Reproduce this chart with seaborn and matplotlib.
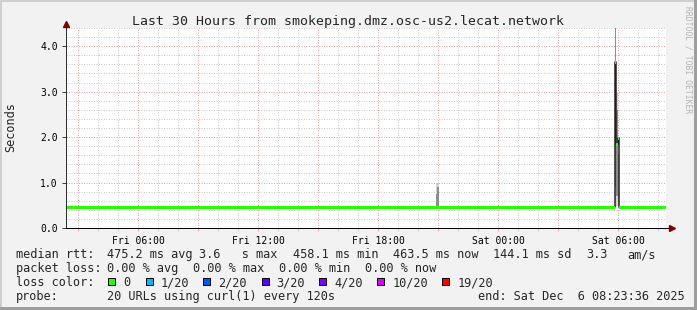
import numpy as np
import pandas as pd
import matplotlib
matplotlib.use("Agg")
import matplotlib.pyplot as plt
import matplotlib.dates as mdates
from matplotlib.patches import Rectangle
from matplotlib.ticker import MultipleLocator, FuncFormatter
import seaborn as sns

# ---------------- data ----------------
start_time = "2025-12-05 02:23:36"
end_time = "2025-12-06 08:23:36"
title = "Last 30 Hours from smokeping.dmz.osc-us2.lecat.network"
y_label = "Seconds"

# median rtt (step series): hours after start, seconds
median_hours = [0.00, 27.45, 27.52, 27.59, 27.66, 29.98]
median_sec = [0.454, 3.65, 1.84, 1.97, 0.454, 0.454]

# smoke (ping spread) columns: hours after start, seconds
smoke_hours = [18.50, 18.57, 27.45, 27.52, 27.59]
smoke_min = [0.49, 0.49, 0.49, 0.49, 0.49]
smoke_q1 = [0.49, 0.49, 0.90, 0.70, 0.60]
smoke_q3 = [0.75, 0.90, 4.40, 2.60, 1.60]
smoke_max = [0.98, 0.98, 4.40, 3.00, 2.00]

legend_rtt = ["475.2 ms avg", "3.6   s max", "458.1 ms min", "463.5 ms now", "144.1 ms sd", "3.3", "am/s"]
legend_loss = ["0.00 % avg", "0.00 % max", "0.00 % min", "0.00 % now"]
loss_labels = ["0", "1/20", "2/20", "3/20", "4/20", "10/20", "19/20"]
loss_colors = ["#26ff00", "#00b8ff", "#0059ff", "#5e00ff", "#7e00ff", "#dd00ff", "#ff0000"]
probe_text = "20 URLs using curl(1) every 120s"
end_text = "end: Sat Dec  6 08:23:36 2025"
watermark = "RRDTOOL / TOBI OETIKER"

# ---------------- figure ----------------
W, H = 697, 310
sns.set_style("white")
plt.rcParams["font.family"] = ["DejaVu Sans Mono"]
fig = plt.figure(figsize=(W / 100, H / 100), dpi=100)
fig.patch.set_facecolor("#f2f2f2")

def fx(x):
    return x / W

def fy(y):
    return 1 - y / H

PX = 0.72  # one pixel in points

# border shading
fig.add_artist(Rectangle((0, fy(2)), 1, 2 / H, transform=fig.transFigure, color="#cfcfcf", lw=0))
fig.add_artist(Rectangle((0, 0), 2 / W, 1, transform=fig.transFigure, color="#cfcfcf", lw=0))
fig.add_artist(Rectangle((0, 0), 1, 3 / H, transform=fig.transFigure, color="#9e9e9e", lw=0))
fig.add_artist(Rectangle((1 - 3 / W, 0), 3 / W, 1, transform=fig.transFigure, color="#9e9e9e", lw=0))

ax = fig.add_axes([fx(66), 82 / H, 600 / W, 200 / H])
ax.set_facecolor("white")

t0 = pd.Timestamp(start_time)
t1 = pd.Timestamp(end_time)
med_t = [t0 + pd.Timedelta(hours=h) for h in median_hours]
df = pd.DataFrame({"time": med_t, "rtt": median_sec})

# smoke
step_days = 0.07 / 24
sm_t = [mdates.date2num(t0 + pd.Timedelta(hours=h)) for h in smoke_hours]
lo = np.array(smoke_min); q1 = np.array(smoke_q1); q3 = np.array(smoke_q3); hi = np.array(smoke_max)
ax.bar(sm_t, hi - lo, bottom=lo, width=step_days, align="edge", color="#d2d2d2", lw=0, zorder=2)
ax.bar(sm_t, q3 - q1, bottom=q1, width=step_days, align="edge", color="#8c8c8c", lw=0, zorder=2)

# dark median line
sns.lineplot(data=df, x="time", y="rtt", drawstyle="steps-post", color="#202020",
             lw=1.5 * PX, ax=ax, zorder=3)
# coloured median band
sw = 0.036
v = np.array(median_sec)
ax.fill_between(mdates.date2num(med_t), v - sw, v + sw, step="post", color=loss_colors[0],
                lw=0, zorder=4)

ax.set_xlim(mdates.date2num(t0), mdates.date2num(t1))
ax.set_ylim(0, 4.4)
ax.set_xlabel("")
ax.set_ylabel("")

# grid
red = "#f0a0a0"
gray = "#cccccc"
ax.xaxis.set_major_locator(mdates.HourLocator(byhour=range(0, 24, 3)))
ax.xaxis.set_minor_locator(mdates.HourLocator())
ax.xaxis.set_major_formatter(FuncFormatter(
    lambda x, p: mdates.num2date(x).strftime("%a %H:%M") if mdates.num2date(x).hour % 6 == 0 else ""))
ax.yaxis.set_major_locator(MultipleLocator(1.0))
ax.yaxis.set_minor_locator(MultipleLocator(0.2))
ax.yaxis.set_major_formatter(FuncFormatter(lambda y, p: f"{y:.1f}"))
ax.grid(which="major", color=red, lw=PX, ls=(0, (1, 1.5)))
ax.grid(which="minor", color=gray, lw=PX, ls=(0, (1, 1.5)))
ax.set_axisbelow(True)
for s in ax.spines.values():
    s.set_visible(False)

ax.tick_params(axis="x", which="major", length=2.5, width=PX, color=red, pad=3,
               labelsize=7.0, labelcolor="black")
ax.tick_params(axis="x", which="minor", length=2, width=PX, color=gray)
ax.tick_params(axis="y", which="major", length=3, width=PX, color="#404040", pad=3,
               labelsize=7.0, labelcolor="black")
ax.tick_params(axis="y", which="minor", length=0)
ax.tick_params(bottom=True, left=True, which="both")

# axis lines with arrows
ax.plot([0, 0], [0, 1 + 3 / 200], transform=ax.transAxes, color="#303030", lw=PX, clip_on=False, zorder=6)
ax.plot([0, 1 + 4 / 600], [0, 0], transform=ax.transAxes, color="black", lw=PX, clip_on=False, zorder=6)
ax.plot([0], [1 + 4.5 / 200], marker="^", ms=4, color="#7f0000", transform=ax.transAxes, clip_on=False, zorder=7)
ax.plot([1 + 6 / 600], [0], marker=">", ms=4, color="#7f0000", transform=ax.transAxes, clip_on=False, zorder=7)

# texts
fig.text(fx(348.5), fy(25), title, ha="center", va="baseline", fontsize=9.5)
fig.text(fx(10.8), fy(127.5), y_label, rotation=90, ha="center", va="center", fontsize=8.6)
fig.text(fx(687.7), fy(60), watermark, rotation=270, ha="center", va="center", fontsize=5.8, color="#b4b4b4")

LF = 8.6
def t(x, y, s):
    fig.text(fx(x), fy(y), s, ha="left", va="baseline", fontsize=LF)

t(16, 258.3, "median rtt:")
for x, s in zip([107.3, 198.7, 293.3, 393.3, 493.3, 586, 627.3], legend_rtt):
    t(x, 258.3, s)
t(16, 272.3, "packet loss:")
for x, s in zip([107.3, 193.3, 279.3, 365.3], legend_loss):
    t(x, 272.3, s)
t(16, 286.3, "loss color:")
for xs, s, c in zip([108.3, 145.7, 203.3, 261.7, 319.3, 377.3, 442.3], loss_labels, loss_colors):
    fig.add_artist(Rectangle((fx(xs), fy(284.7)), 7 / W, 7 / H, transform=fig.transFigure,
                             facecolor=c, edgecolor="black", lw=PX))
    t(xs + 15, 286.3, s)
t(16, 300.4, "probe:")
t(107.3, 300.4, probe_text)
t(478.3, 300.4, end_text)

fig.savefig("out.png", dpi=100, facecolor=fig.get_facecolor())
